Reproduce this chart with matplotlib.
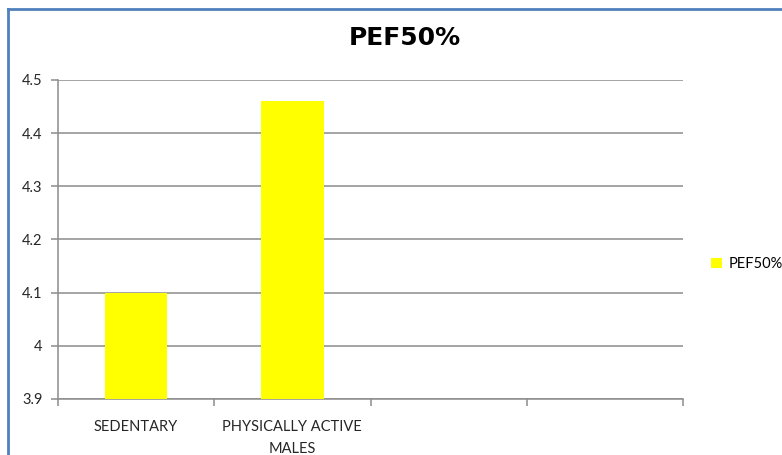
import matplotlib.pyplot as plt
from matplotlib.lines import Line2D

categories = ['SEDENTARY', 'PHYSICALLY ACTIVE\nMALES', '', '']
pef50 = [4.10, 4.46]
series_name = 'PEF50%'
yticks = [3.9, 4.0, 4.1, 4.2, 4.3, 4.4, 4.5]
ytick_labels = ['3.9', '4', '4.1', '4.2', '4.3', '4.4', '4.5']

plt.rcParams['font.family'] = ['Lato', 'DejaVu Sans']
grey = '#8c8c8c'

fig = plt.figure(figsize=(7.82, 4.55), dpi=100)
ax = fig.add_axes([58 / 782, 1 - 399 / 455, 625 / 782, 319 / 455])

ax.bar(range(len(pef50)), pef50, width=0.4, color='#ffff00', zorder=3,
       label=series_name)

ax.set_xlim(-0.5, len(categories) - 0.5)
ax.set_ylim(3.9, 4.5)
ax.set_yticks(yticks)
ax.set_yticklabels(ytick_labels, fontsize=10.5, color='#262626')
ax.yaxis.grid(True, color=grey, linewidth=1.1, zorder=0)

# category boundaries carry the tick marks, names sit in between
ax.set_xticks([i - 0.5 for i in range(len(categories) + 1)])
ax.set_xticklabels([])
ax.set_xticks(range(len(categories)), minor=True)
ax.set_xticklabels(categories, minor=True, fontsize=10.5, color='#262626',
                   linespacing=1.75)
ax.tick_params(axis='x', which='minor', length=0, pad=15)
ax.tick_params(axis='x', which='major', length=5, color=grey, width=1.1)
ax.tick_params(axis='y', length=5, color=grey, width=1.1, pad=6)

for s in ['top', 'right']:
    ax.spines[s].set_visible(False)
for s in ['left', 'bottom']:
    ax.spines[s].set_color(grey)
    ax.spines[s].set_linewidth(1.1)

fig.text(405 / 782, 1 - 38 / 455, 'PEF50%', fontsize=18, fontweight='bold',
         ha='center', va='center', family=['DejaVu Sans'])

ax.legend(loc='center left', bbox_to_anchor=(711 / 782, 1 - 264 / 455),
          bbox_transform=fig.transFigure, frameon=False, fontsize=10.5,
          handlelength=0.75, handleheight=0.75, handletextpad=0.45,
          borderpad=0, borderaxespad=0)

# chart frame, only the top and left edges fall inside the image
border = '#4f81bd'
fig.add_artist(Line2D([8 / 782, 1.0], [1 - 9 / 455, 1 - 9 / 455],
                      transform=fig.transFigure, color=border, linewidth=2))
fig.add_artist(Line2D([8 / 782, 8 / 782], [0.0, 1 - 9 / 455],
                      transform=fig.transFigure, color=border, linewidth=2))

fig.savefig('out.png', dpi=100)
